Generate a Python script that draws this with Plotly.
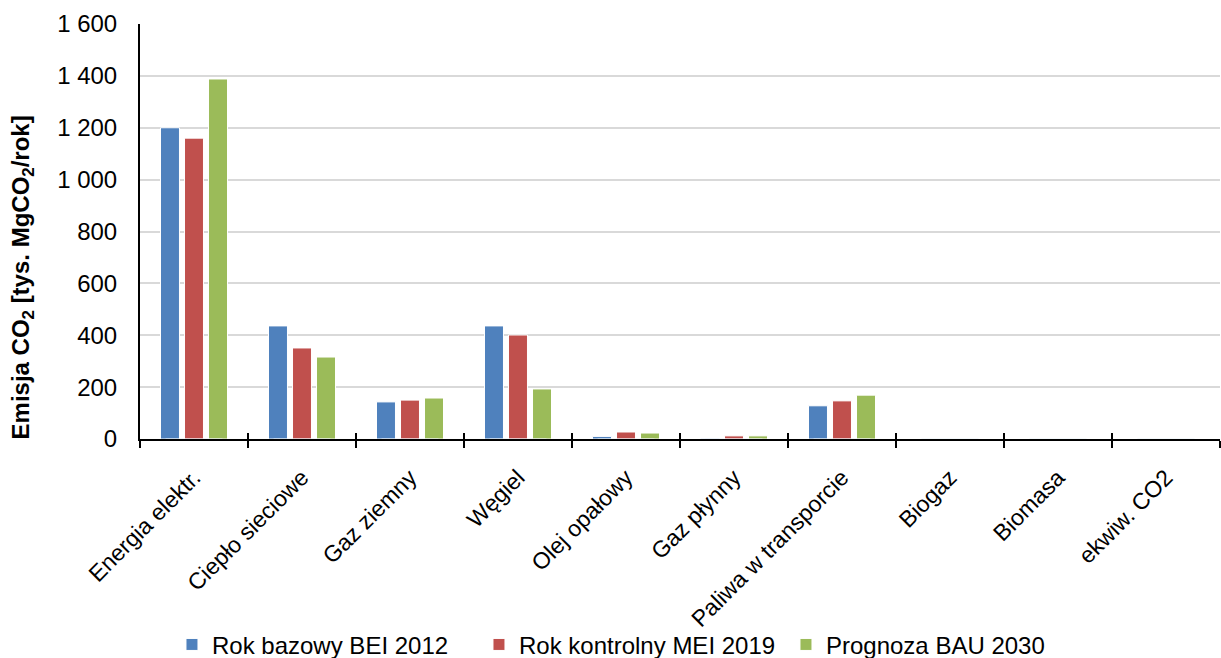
import plotly.graph_objects as go

categories = ["Energia elektr.", "Ciepło sieciowe", "Gaz ziemny", "Węgiel", "Olej opałowy",
              "Gaz płynny", "Paliwa w transporcie", "Biogaz", "Biomasa", "ekwiw. CO2"]
bei_2012 = [1200, 436, 143, 436, 10, 3, 128, 0, 0, 0]
mei_2019 = [1160, 351, 150, 401, 27, 12, 147, 0, 0, 0]
bau_2030 = [1388, 316, 158, 193, 23, 12, 169, 0, 0, 0]

series = [
    ("Rok bazowy BEI 2012", bei_2012, "#4F81BD"),
    ("Rok kontrolny MEI 2019", mei_2019, "#C0504D"),
    ("Prognoza BAU 2030", bau_2030, "#9BBB59"),
]

fig = go.Figure()
for name, vals, color in series:
    fig.add_trace(go.Bar(
        x=categories, y=vals, name=name,
        marker=dict(color=color, line=dict(color="white", width=1)),
    ))

# helper trace on an overlaid category axis: draws the upper half of the crossing tick marks
fig.add_trace(go.Bar(
    x=categories, y=[0] * len(categories), xaxis="x2", showlegend=False,
    hoverinfo="skip", marker=dict(color="rgba(0,0,0,0)"),
))

font_family = "Liberation Sans, Arial, sans-serif"
fig.update_layout(
    width=1221, height=658,
    margin=dict(l=140, r=1, t=24, b=219, autoexpand=False),
    paper_bgcolor="white", plot_bgcolor="white",
    barmode="group", bargap=0.333, bargroupgap=0.21,
    separators=", ",
    font=dict(family=font_family, size=24, color="black"),
    showlegend=True,
    legend=dict(orientation="h", x=0.456, xanchor="center", y=-0.496, yanchor="middle",
                font=dict(size=24), entrywidth=262, tracegroupgap=0,
                bgcolor="rgba(0,0,0,0)"),
    xaxis=dict(
        type="category", tickangle=-45, tickson="boundaries",
        ticks="outside", ticklen=7, tickwidth=2, tickcolor="black",
        showline=True, linecolor="black", linewidth=2,
        tickfont=dict(size=23), showgrid=False, automargin=False,
        ticklabelstandoff=14,
    ),
    xaxis2=dict(
        type="category", overlaying="x", matches="x", side="bottom",
        tickson="boundaries", ticks="inside", ticklen=6, tickwidth=2, tickcolor="black",
        showticklabels=False, showline=False, showgrid=False, automargin=False,
    ),
    yaxis=dict(
        range=[0, 1600], dtick=200, tickformat=",d",
        showgrid=True, gridcolor="#d9d9d9", gridwidth=2,
        zeroline=False, showline=True, linecolor="black", linewidth=2,
        ticks="", tickfont=dict(size=24), ticklabelstandoff=16, automargin=False,
    ),
    annotations=[dict(
        text="<b>Emisja CO<sub>2</sub> [tys. MgCO<sub>2</sub>/rok]</b>",
        textangle=-90, xref="paper", yref="paper", x=-0.109, y=0.39,
        xanchor="center", yanchor="middle", showarrow=False,
        font=dict(size=24),
    )],
)

fig.write_html("out.html")
